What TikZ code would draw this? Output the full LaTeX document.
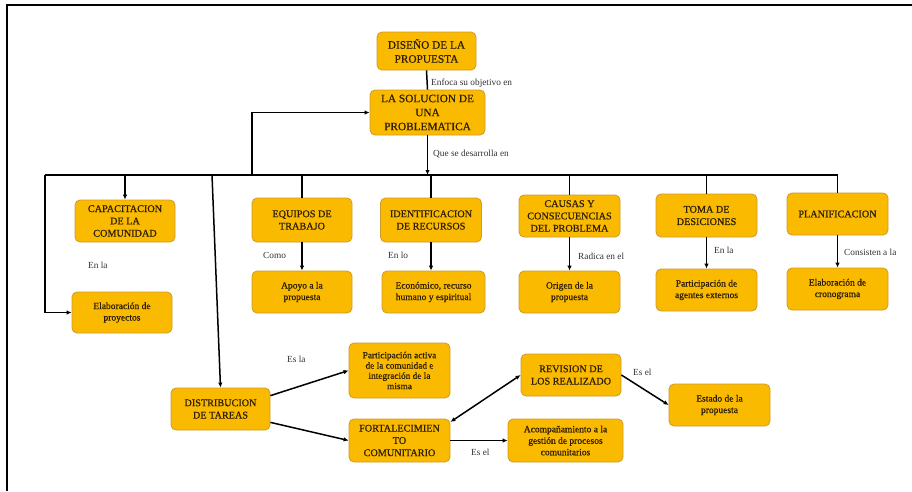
\documentclass[tikz,border=0pt]{standalone}
\usepackage{fontspec}
\setmainfont{Liberation Serif}
\newfontfamily\boxfont[FakeBold=0.6]{Liberation Serif}
\usetikzlibrary{arrows.meta}
\definecolor{boxfill}{RGB}{250,186,0}
\definecolor{boxborder}{RGB}{205,155,40}
\definecolor{boxtext}{RGB}{45,30,5}
\definecolor{labeltext}{RGB}{50,50,50}
\begin{document}
\begin{tikzpicture}[x=1pt,y=-1pt,
 box/.style={draw=boxborder, fill=boxfill, rounded corners=5pt, line width=0.8pt, align=center, inner sep=0pt, text=boxtext},
 capsbig/.style={font=\boxfont\fontsize{11.3}{14}\selectfont},
 caps/.style={font=\boxfont\fontsize{10.2}{12.3}\selectfont},
 small/.style={font=\boxfont\fontsize{9.5}{11.5}\selectfont},
 lbl/.style={anchor=west, inner sep=0pt, text=labeltext, font=\fontsize{9.3}{11}\selectfont},
 conn/.style={line width=1.5pt, black},
 arr/.style={conn, -{Latex[length=5pt,width=4.5pt]}},
 darr/.style={conn, {Latex[length=5pt,width=4.5pt]}-{Latex[length=5pt,width=4.5pt]}},
 sz/.style 2 args={minimum width=#1pt, minimum height=#2pt},
]
\useasboundingbox (0,0) rectangle (912,491);
\fill[white] (0,0) rectangle (912,491);
\draw[line width=1.5pt] (912,5) -- (7,5) -- (7,491);

% top
\node[box, capsbig, sz={99}{38}] (dis) at (426.5,51) {DISEÑO DE LA\\PROPUESTA};
\node[box, capsbig, sz={115}{45}] (sol) at (427.5,112.5) {LA SOLUCION DE\\UNA\\PROBLEMATICA};

% row 1
\node[box, caps, sz={100}{42}] (cap) at (125,221) {CAPACITACION\\DE LA\\COMUNIDAD};
\node[box, caps, sz={100}{44}] (equ) at (302,220) {EQUIPOS DE\\TRABAJO};
\node[box, caps, sz={101}{44}] (ide) at (431,220) {IDENTIFICACION\\DE RECURSOS};
\node[box, caps, sz={101}{42}] (cau) at (569.5,216) {CAUSAS Y\\CONSECUENCIAS\\DEL PROBLEMA};
\node[box, caps, sz={101}{43}] (tom) at (706.5,215.5) {TOMA DE\\DESICIONES};
\node[box, caps, sz={101}{42}] (pla) at (837.5,214) {PLANIFICACION};

% row 2
\node[box, small, sz={100}{41}] (ep) at (122,312.5) {Elaboración de\\proyectos};
\node[box, small, sz={100}{42}] (apo) at (302,292) {Apoyo a la\\propuesta};
\node[box, small, sz={103}{42}] (eco) at (433.5,292) {Económico, recurso\\humano y espiritual};
\node[box, small, sz={101}{42}] (ori) at (569.5,292) {Origen de la\\propuesta};
\node[box, small, sz={101}{42}] (par) at (706.5,290) {Participación de\\agentes externos};
\node[box, small, sz={101}{42}] (cro) at (837.5,289) {Elaboración de\\cronograma};

% row 3
\node[box, caps, sz={99}{42}] (dist) at (220.5,409) {DISTRIBUCION\\DE TAREAS};
\node[box, small, sz={101}{55}, font=\boxfont\fontsize{9.3}{10.3}\selectfont] (pac) at (399.5,370.5) {Participación activa\\de la comunidad e\\integración de la\\misma};
\node[box, caps, sz={101}{43}] (for) at (399.5,440.5) {FORTALECIMIEN\\TO\\COMUNITARIO};
\node[box, caps, sz={100}{42}] (rev) at (571,375) {REVISION DE\\LOS REALIZADO};
\node[box, small, sz={101}{42}] (est) at (719.5,405) {Estado de la\\propuesta};
\node[box, small, sz={115}{43}] (aco) at (565.5,440.5) {Acompañamiento a la\\gestión de procesos\\comunitarios};

% coordinates
\coordinate (busL) at (45,175);
\coordinate (fb) at (252,175);
\coordinate (dtop) at (212,175);

% connectors top
\draw[conn] (dis.south) -- (sol.north);
\draw[conn] (busL) -- (busL -| pla.north);
\draw[arr] (sol.south) -- (sol.south |- busL);
\draw[arr] (fb) |- (sol.west);
\draw[arr] (busL) |- (ep.west);
\draw[arr] (busL -| cap.north) -- (cap.north);
\draw[arr] (dtop) -- (dist.north);
\draw[conn] (busL -| equ.north) -- (equ.north);
\draw[conn] (busL -| ide.north) -- (ide.north);
\draw[conn] (busL -| cau.north) -- (cau.north);
\draw[conn] (busL -| tom.north) -- (tom.north);
\draw[conn] (busL -| pla.north) -- (pla.north);

% row 1 -> row 2
\draw[arr] (equ.south) -- (apo.north);
\draw[arr] (ide.south) -- (ide.south |- eco.north);
\draw[arr] (cau.south) -- (ori.north);
\draw[arr] (tom.south) -- (par.north);
\draw[arr] (pla.south) -- (cro.north);

% row 3
\draw[arr] (dist.15) -- (pac.west);
\draw[arr] (dist.-15) -- (for.west);
\draw[darr] (for.20) -- (rev.west);
\draw[arr] (for.east) -- (aco.west);
\draw[arr] (rev.east) -- (est.west);

% labels
\node[lbl] (l1) at (431,83) {Enfoca su objetivo en};
\node[lbl] (l2) at (433,154) {Que se desarrolla en};
\node[lbl] (l3) at (88,265) {En la};
\node[lbl] (l4) at (263,255) {Como};
\node[lbl] (l5) at (388,255) {En lo};
\node[lbl] (l6) at (578,256) {Radica en el};
\node[lbl] (l7) at (714,250) {En la};
\node[lbl] (l8) at (844,252) {Consisten a la};
\node[lbl] (l9) at (287,359) {Es la};
\node[lbl] (l10) at (471,452) {Es el};
\node[lbl] (l11) at (633,372) {Es el};
\end{tikzpicture}
\end{document}
